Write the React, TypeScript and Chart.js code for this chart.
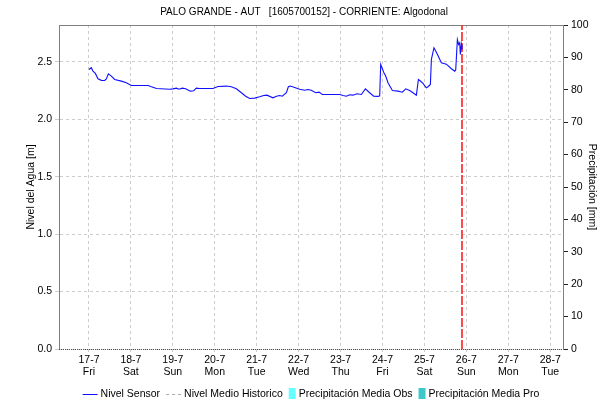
import React, { useEffect, useRef } from 'react';
import { Chart, registerables } from 'chart.js';

Chart.register(...registerables);

const TITLE = 'PALO GRANDE - AUT   [1605700152] - CORRIENTE: Algodonal';
const LEFT_AXIS_TITLE = 'Nivel del Agua [m]';
const RIGHT_AXIS_TITLE = 'Precipitación [mm]';

const DAY_LABELS = ['17-7', '18-7', '19-7', '20-7', '21-7', '22-7', '23-7', '24-7', '25-7', '26-7', '27-7', '28-7'];
const WEEKDAY_LABELS = ['Fri', 'Sat', 'Sun', 'Mon', 'Tue', 'Wed', 'Thu', 'Fri', 'Sat', 'Sun', 'Mon', 'Tue'];
const LEVEL_TICKS = [0, 0.5, 1.0, 1.5, 2.0, 2.5];

// time in days since 17-7 00:00
const SENSOR_T = [
  0, 0.057, 0.095, 0.152, 0.215, 0.295, 0.374, 0.414, 0.462, 0.534,
  0.613, 0.772, 0.891, 1.01, 1.41, 1.49, 1.61, 1.925, 2.003, 2.084,
  2.147, 2.227, 2.306, 2.418, 2.497, 2.561, 2.64, 2.957, 3.077, 3.277,
  3.396, 3.515, 3.634, 3.737, 3.833, 3.952, 4.071, 4.166, 4.245, 4.388,
  4.47, 4.548, 4.61, 4.708, 4.755, 4.8, 4.906, 5.025, 5.144, 5.223,
  5.3, 5.407, 5.486, 5.566, 5.979, 6.058, 6.138, 6.218, 6.296, 6.392,
  6.496, 6.592, 6.694, 6.79, 6.893, 6.933, 6.957, 6.988, 7.028, 7.076,
  7.131, 7.236, 7.37, 7.474, 7.553, 7.649, 7.727, 7.808, 7.856, 7.904,
  7.966, 8.046, 8.085, 8.142, 8.166, 8.228, 8.3, 8.404, 8.524, 8.643,
  8.722, 8.746, 8.786, 8.817, 8.841, 8.857, 8.88, 8.896,
];
const SENSOR_LEVEL = [
  2.435, 2.45, 2.42, 2.4, 2.353, 2.34, 2.339, 2.353, 2.397, 2.377,
  2.348, 2.333, 2.319, 2.295, 2.295, 2.284, 2.269, 2.263, 2.266, 2.272,
  2.263, 2.272, 2.266, 2.246, 2.25, 2.272, 2.269, 2.269, 2.287, 2.29,
  2.284, 2.266, 2.232, 2.202, 2.182, 2.185, 2.197, 2.208, 2.211, 2.188,
  2.202, 2.208, 2.202, 2.232, 2.284, 2.29, 2.278, 2.263, 2.254, 2.26,
  2.254, 2.232, 2.237, 2.217, 2.217, 2.208, 2.202, 2.214, 2.211, 2.223,
  2.217, 2.266, 2.232, 2.202, 2.2, 2.205, 2.478, 2.449, 2.411, 2.377,
  2.319, 2.252, 2.246, 2.237, 2.266, 2.252, 2.232, 2.211, 2.348, 2.334,
  2.313, 2.275, 2.284, 2.304, 2.522, 2.624, 2.574, 2.493, 2.481, 2.441,
  2.42, 2.429, 2.696, 2.652, 2.667, 2.565, 2.652, 2.61,
];
const HIST_T: number[] = [];
const HIST_LEVEL: number[] = [];
const PRECIP_OBS: number[] = [];
const PRECIP_PRO: number[] = [];
const NOW_T = 8.896;

const X_MIN = -0.715;
const X_MAX = 11.305;
const LEVEL_MAX = 2.822;
const PRECIP_MAX = 100;

const FONT = '"Liberation Sans", Arial, sans-serif';

const textPlugin = {
  id: 'textPlugin',
  beforeDatasetsDraw(chart: any) {
    const { ctx, chartArea } = chart;
    ctx.save();
    ctx.strokeStyle = '#808080';
    ctx.lineWidth = 1;
    ctx.beginPath();
    ctx.moveTo(chartArea.left, Math.floor(chartArea.top) + 0.5);
    ctx.lineTo(chartArea.right, Math.floor(chartArea.top) + 0.5);
    ctx.stroke();
    ctx.strokeStyle = '#505050';
    ctx.setLineDash([1, 1]);
    ctx.beginPath();
    ctx.moveTo(chartArea.left, Math.floor(chartArea.bottom) + 0.5);
    ctx.lineTo(chartArea.right, Math.floor(chartArea.bottom) + 0.5);
    ctx.stroke();
    ctx.restore();
  },
  afterDraw(chart: any) {
    const { ctx, chartArea } = chart;
    const midY = (chartArea.top + chartArea.bottom) / 2;
    ctx.save();
    ctx.fillStyle = '#000';
    ctx.font = `10px ${FONT}`;
    ctx.textAlign = 'center';
    ctx.textBaseline = 'middle';
    ctx.fillText(TITLE, 304, 12);

    ctx.font = `10.5px ${FONT}`;
    ctx.save();
    ctx.translate(31, midY);
    ctx.rotate(-Math.PI / 2);
    ctx.fillText(LEFT_AXIS_TITLE, 0, 0);
    ctx.restore();

    ctx.save();
    ctx.translate(592, midY);
    ctx.rotate(Math.PI / 2);
    ctx.fillText(RIGHT_AXIS_TITLE, 0, 0);
    ctx.restore();

    // legend
    ctx.textAlign = 'left';
    const items = chart.data.datasets.filter((d: any) => d.legendSymbol);
    const symW = (d: any) => (d.legendSymbol === 'box' ? 7 : 15);
    const gapSym = 3;
    const gapItem = 6;
    let total = 0;
    items.forEach((d: any, i: number) => {
      total += symW(d) + gapSym + ctx.measureText(d.label).width;
      if (i < items.length - 1) total += gapItem;
    });
    let x = 311 - total / 2;
    const y = 394;
    items.forEach((d: any) => {
      const w = symW(d);
      if (d.legendSymbol === 'box') {
        ctx.fillStyle = d.backgroundColor;
        ctx.fillRect(x, y - 6, w, 11);
      } else {
        ctx.strokeStyle = d.borderColor;
        ctx.lineWidth = 1;
        ctx.setLineDash(d.borderDash || []);
        ctx.beginPath();
        ctx.moveTo(x, Math.floor(y) + 0.5);
        ctx.lineTo(x + w, Math.floor(y) + 0.5);
        ctx.stroke();
        ctx.setLineDash([]);
      }
      x += w + gapSym;
      ctx.fillStyle = '#000';
      ctx.fillText(d.label, x, y);
      x += ctx.measureText(d.label).width + gapItem;
    });
    ctx.restore();
  },
};

export default function App() {
  const ref = useRef<HTMLCanvasElement>(null);
  useEffect(() => {
    const canvas = ref.current;
    if (!canvas) return;
    Chart.defaults.font.family = FONT;
    Chart.defaults.font.size = 10.5;
    Chart.defaults.color = '#000';
    const chart = new Chart(canvas, {
      type: 'line',
      data: {
        datasets: [
          {
            label: 'Nivel Sensor',
            data: SENSOR_T.map((t, i) => ({ x: t, y: SENSOR_LEVEL[i] })),
            borderColor: '#1010ff',
            backgroundColor: '#1010ff',
            borderWidth: 1.1,
            pointRadius: 0,
            tension: 0,
            yAxisID: 'y',
            legendSymbol: 'line',
          } as any,
          {
            label: 'Nivel Medio Historico',
            data: HIST_T.map((t, i) => ({ x: t, y: HIST_LEVEL[i] })),
            borderColor: '#a8a8a8',
            backgroundColor: '#a8a8a8',
            borderDash: [3, 3],
            borderWidth: 1,
            pointRadius: 0,
            yAxisID: 'y',
            legendSymbol: 'line',
          } as any,
          {
            type: 'bar',
            label: 'Precipitación Media Obs',
            data: PRECIP_OBS,
            backgroundColor: '#66ffff',
            yAxisID: 'y1',
            legendSymbol: 'box',
          } as any,
          {
            type: 'bar',
            label: 'Precipitación Media Pro',
            data: PRECIP_PRO,
            backgroundColor: '#40c8c8',
            yAxisID: 'y1',
            legendSymbol: 'box',
          } as any,
          {
            label: 'Ahora',
            data: [
              { x: NOW_T, y: 0 },
              { x: NOW_T, y: LEVEL_MAX },
            ],
            borderColor: '#ff2020',
            borderWidth: 1.6,
            borderDash: [9, 2],
            pointRadius: 0,
            yAxisID: 'y',
          } as any,
        ],
      },
      options: {
        responsive: false,
        devicePixelRatio: 1,
        animation: false,
        layout: { padding: { top: 25, left: 0, right: 0, bottom: 0 } },
        plugins: {
          legend: { display: false },
          title: { display: false },
          tooltip: { enabled: false },
        },
        scales: {
          x: {
            type: 'linear',
            min: X_MIN,
            max: X_MAX,
            offset: false,
            afterBuildTicks: (scale: any) => {
              scale.ticks = DAY_LABELS.map((_, i) => ({ value: i }));
            },
            afterFit: (scale: any) => {
              scale.height = 54;
            },
            ticks: {
              autoSkip: false,
              maxRotation: 0,
              padding: 2,
              font: { size: 10.5, lineHeight: 1.15 },
              callback: (v: any) => [DAY_LABELS[v], WEEKDAY_LABELS[v]],
            },
            grid: { color: '#cccccc', tickLength: 3, offset: false },
            border: { display: false, dash: [3, 3] },
          },
          y: {
            type: 'linear',
            position: 'left',
            min: 0,
            max: LEVEL_MAX,
            afterBuildTicks: (scale: any) => {
              scale.ticks = LEVEL_TICKS.map((v) => ({ value: v }));
            },
            afterFit: (scale: any) => {
              scale.width = 59;
            },
            ticks: {
              padding: 3,
              callback: (v: any) => Number(v).toFixed(1),
            },
            grid: { color: '#cccccc', tickLength: 4 },
            border: { display: true, color: '#808080', width: 1, dash: [3, 3] },
          },
          y1: {
            type: 'linear',
            position: 'right',
            min: 0,
            max: PRECIP_MAX,
            ticks: { stepSize: 10, padding: 3 },
            afterFit: (scale: any) => {
              scale.width = 52;
            },
            grid: { drawOnChartArea: false, tickLength: 5, color: '#202020' },
            border: { display: true, color: '#808080', width: 1 },
          },
        },
      } as any,
      plugins: [textPlugin],
    });
    return () => chart.destroy();
  }, []);
  return (
    <div style={{ position: 'absolute', left: 0, top: 0, width: 615, height: 403, background: '#fff' }}>
      <canvas ref={ref} width={615} height={403} style={{ display: 'block', width: 615, height: 403 }} />
    </div>
  );
}
